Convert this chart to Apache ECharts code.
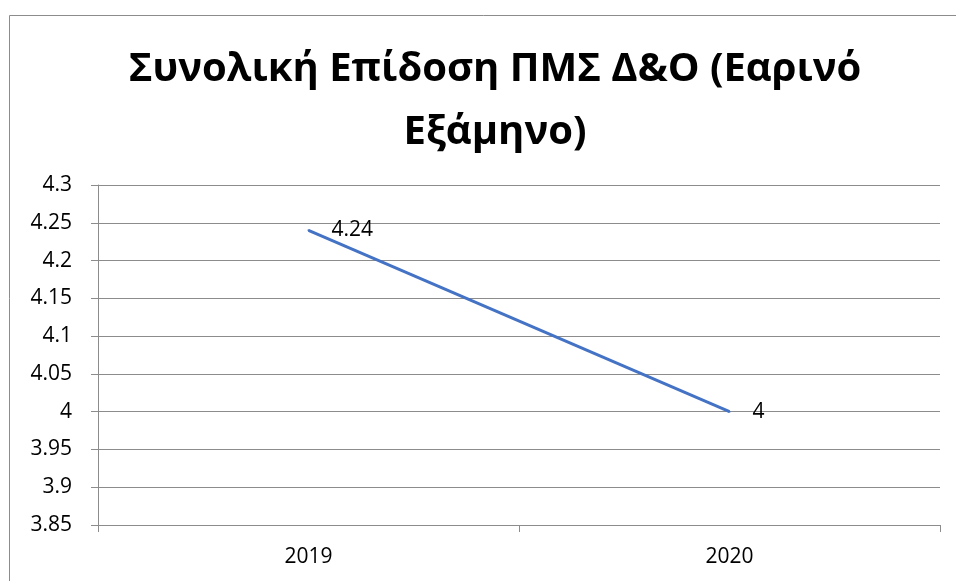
<!DOCTYPE html>
<html>
<head>
<meta charset="utf-8">
<script src="https://cdn.jsdelivr.net/npm/echarts@6/dist/echarts.min.js"></script>
<style>
  html, body { margin: 0; padding: 0; background: #fff; }
  #chart { width: 956px; height: 581px; }
</style>
</head>
<body>
<div id="chart"></div>
<script>
const titleText = 'Συνολική Επίδοση ΠΜΣ Δ&Ο (Εαρινό\nΕξάμηνο)'
const years = ['2019', '2020']
const scores = [4.24, 4]

const chart = echarts.init(document.getElementById('chart'))

const option = {
  animation: false,
  title: {
    text: titleText,
    left: 490,
    textAlign: 'center',
    top: 33,
    textStyle: {
      fontFamily: 'Open Sans',
      fontWeight: 'bold',
      fontSize: 40,
      lineHeight: 63,
      color: '#000',
    },
  },
  // outer chart frame
  graphic: [
    {
      type: 'rect',
      shape: { x: 9.5, y: 15.5, width: 1000, height: 1000 },
      style: { fill: 'none', stroke: '#8c8c8c', lineWidth: 1 },
      silent: true,
    },
  ],
  grid: {
    left: 98,
    right: 16,
    top: 185,
    bottom: 56,
  },
  xAxis: {
    type: 'category',
    data: years,
    boundaryGap: true,
    axisLine: { lineStyle: { color: '#8c8c8c', width: 1 } },
    axisTick: { show: true, length: 7, lineStyle: { color: '#8c8c8c' } },
    axisLabel: {
      color: '#000',
      fontFamily: 'Open Sans',
      fontSize: 21,
      margin: 22,
    },
  },
  yAxis: {
    type: 'value',
    min: 3.85,
    max: 4.3,
    interval: 0.05,
    axisLine: { show: true, lineStyle: { color: '#8c8c8c', width: 1 } },
    axisTick: { show: true, length: 7, lineStyle: { color: '#8c8c8c' } },
    splitLine: { show: true, lineStyle: { color: '#8c8c8c', width: 1 } },
    axisLabel: {
      color: '#000',
      fontFamily: 'Open Sans',
      fontSize: 21,
      margin: 26,
      formatter: (v) => String(parseFloat(v.toFixed(2))),
    },
  },
  series: [
    {
      type: 'line',
      data: scores,
      symbol: 'circle',
      symbolSize: 2,
      showSymbol: true,
      itemStyle: { color: '#4472C4' },
      lineStyle: { color: '#4472C4', width: 3 },
      label: {
        show: true,
        position: 'right',
        distance: 22,
        color: '#000',
        fontFamily: 'Open Sans',
        fontSize: 21,
      },
    },
  ],
}

chart.setOption(option)
</script>
</body>
</html>
